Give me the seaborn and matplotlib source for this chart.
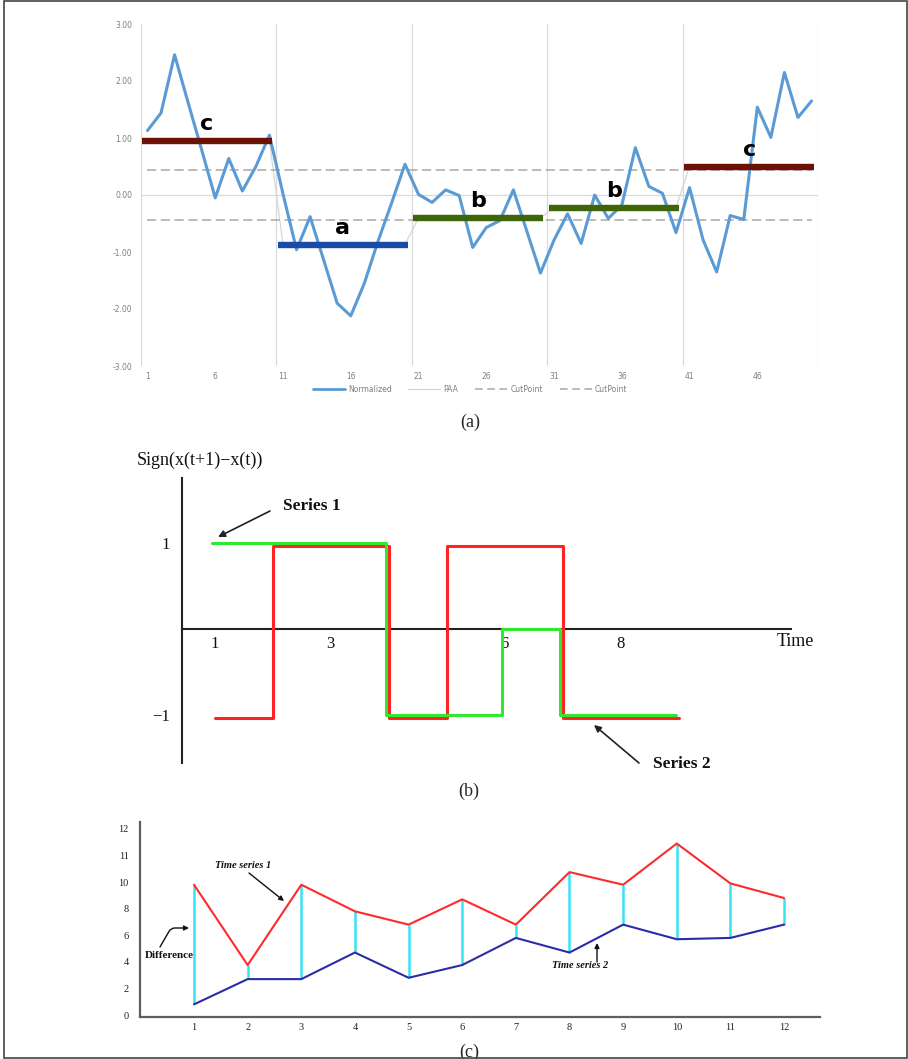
import numpy as np
import matplotlib
matplotlib.use("Agg")
import matplotlib.pyplot as plt
import matplotlib.transforms as mtransforms
from matplotlib.lines import Line2D
from matplotlib.patches import Rectangle
import seaborn as sns

W, H, DPI = 908, 1059, 100

# ---------------- (a) SAX representation ----------------
norm_index = list(range(1, 51))
norm_values = [1.13, 1.44, 2.46, 1.62, 0.79, -0.05, 0.64, 0.07, 0.50, 1.05,
               0.02, -0.96, -0.38, -1.14, -1.90, -2.12, -1.55, -0.82, -0.15, 0.54,
               0.01, -0.13, 0.09, -0.01, -0.92, -0.57, -0.45, 0.09, -0.64, -1.37,
               -0.79, -0.33, -0.85, 0.00, -0.41, -0.18, 0.83, 0.15, 0.03, -0.66,
               0.13, -0.79, -1.35, -0.36, -0.43, 1.54, 1.01, 2.15, 1.36, 1.65]
paa_values = [0.95, -0.87, -0.40, -0.22, 0.50]
paa_letters = ["c", "a", "b", "b", "c"]
segment_len = 10
cut_points = [0.43, -0.43]
a_xticks = [1, 6, 11, 16, 21, 26, 31, 36, 41, 46]
a_yticks = [-3, -2, -1, 0, 1, 2, 3]
a_legend = ["Normalized", "PAA", "CutPoint", "CutPoint"]
letter_colors = {"a": "#1A4CA6", "b": "#3E6608", "c": "#6C1106"}

# ---------------- (b) sign of first differences ----------------
b_time = [1, 2, 3, 4, 5, 6, 7, 8, 9]
sign_series1 = [1, 1, 1, -1, -1, 0, -1, -1, -1]
sign_series2 = [-1, 1, 1, -1, 1, 1, -1, -1, -1]
b_xticks = [1, 3, 6, 8]
b_yticks = [1, -1]
b_yticklabels = ["1", "\u22121"]

# ---------------- (c) point-wise difference ----------------
c_time = list(range(1, 13))
time_series1 = [9.8, 3.76, 9.8, 7.8, 6.8, 8.7, 6.8, 10.75, 9.8, 12.9, 9.9, 8.8]
time_series2 = [0.8, 2.7, 2.7, 4.7, 2.8, 3.76, 5.8, 4.7, 6.8, 5.7, 5.8, 6.8]
c_yticks = [0, 2, 4, 6, 8, 10, 12, 14]
c_yticklabels = ["0", "2", "4", "6", "8", "10", "11", "12"]

sns.set_style("white")
plt.rcParams["font.family"] = ["Liberation Serif", "DejaVu Serif"]
plt.rcParams["axes.unicode_minus"] = True

fig = plt.figure(figsize=(W / DPI, H / DPI), dpi=DPI)
fig.patch.set_facecolor("white")


def rect(l, t, r, b):
    return [l / W, 1 - b / H, (r - l) / W, (b - t) / H]


def fpx(x, y):
    return (x, H - y)


# ======================= panel (a) =======================
axa = fig.add_axes(rect(140.7, 24, 818.3, 366))
axa.set_xlim(0.5, 50.5)
axa.set_ylim(-3, 3)
for s in axa.spines.values():
    s.set_visible(False)
axa.set_xticks(np.arange(0.5, 51, segment_len), minor=True)
axa.grid(which="minor", axis="x", color="#DADADA", lw=0.9)
axa.grid(which="major", visible=False)
axa.axhline(0, color="#DADADA", lw=0.9, zorder=0)

paa_full = np.repeat(paa_values, segment_len)
sns.lineplot(x=norm_index, y=paa_full, ax=axa, color="#D6D6D6", lw=0.9, zorder=2)
for cp in cut_points:
    axa.plot([norm_index[0], norm_index[-1]], [cp, cp], color="#A8A8A8",
             lw=1.1, ls=(0, (6, 3)), zorder=2)
sns.lineplot(x=norm_index, y=norm_values, ax=axa, color="#5B9BD5", lw=2.2, zorder=3)

for k, (v, letter) in enumerate(zip(paa_values, paa_letters)):
    x0 = k * segment_len + 0.6
    x1 = k * segment_len + segment_len + 0.2
    axa.hlines(v, x0, x1, color=letter_colors[letter], lw=4.6, zorder=4)
    axa.annotate(letter, ((x0 + x1) / 2, v), xytext=(0, 7.5),
                 textcoords="offset points", ha="center", va="baseline",
                 fontsize=16, fontweight="bold", family="DejaVu Sans",
                 color="#000000", zorder=5)

axa.set_xticks(a_xticks, labels=[str(v) for v in a_xticks])
axa.set_yticks(a_yticks, labels=[f"{v:.2f}" for v in a_yticks])
axa.tick_params(axis="both", length=0, labelsize=5.5, labelcolor="#7F7F7F")
axa.tick_params(axis="x", pad=4)
axa.tick_params(axis="y", pad=6)
for lab in axa.get_xticklabels() + axa.get_yticklabels():
    lab.set_family("DejaVu Sans")
axa.set_xlabel("")
axa.set_ylabel("")

handles = [Line2D([], [], color="#5B9BD5", lw=2.0),
           Line2D([], [], color="#D6D6D6", lw=0.9),
           Line2D([], [], color="#A8A8A8", lw=1.1, ls=(0, (5, 3))),
           Line2D([], [], color="#A8A8A8", lw=1.1, ls=(0, (5, 3)))]
leg = axa.legend(handles, a_legend, loc="center", ncol=4, frameon=False,
                 bbox_to_anchor=(470 / W, 1 - 389 / H), bbox_transform=fig.transFigure,
                 handlelength=4.2, columnspacing=2.2, handletextpad=0.4,
                 labelcolor="#7F7F7F", prop={"family": "DejaVu Sans", "size": 5.5})

fig.text(470 / W, 1 - 422 / H, "(a)", ha="center", va="center", fontsize=13)

# ======================= panel (b) =======================
axb = fig.add_axes(rect(130, 455, 830, 800))
axb.patch.set_alpha(0)
shift_green = mtransforms.ScaledTranslation(-3 / DPI, 0, fig.dpi_scale_trans)
shift_red = mtransforms.ScaledTranslation(0, -3 / DPI, fig.dpi_scale_trans)
sns.lineplot(x=b_time, y=sign_series1, ax=axb, color="#2EEA2E", lw=2.2,
             drawstyle="steps-post", transform=axb.transData + shift_green, zorder=4)
sns.lineplot(x=b_time, y=sign_series2, ax=axb, color="#FF2424", lw=2.2,
             drawstyle="steps-post", transform=axb.transData + shift_red, zorder=3)
axb.set_xlim(-0.457, 11.612)
axb.set_ylim(-1.981, 2.016)
axb.spines["top"].set_visible(False)
axb.spines["right"].set_visible(False)
axb.spines["left"].set_position(("data", 0.445))
axb.spines["left"].set_bounds(-1.553, 1.75)
axb.spines["bottom"].set_position(("data", 0))
axb.spines["bottom"].set_bounds(0.445, 10.94)
for s in ("left", "bottom"):
    axb.spines[s].set_color("#222222")
    axb.spines[s].set_linewidth(1.5)
    axb.spines[s].set_zorder(2)
axb.set_xticks(b_xticks, labels=[str(v) for v in b_xticks])
axb.set_yticks(b_yticks, labels=b_yticklabels)
axb.tick_params(axis="both", length=0, labelsize=12, labelcolor="#111111")
axb.tick_params(axis="x", pad=4.8)
axb.tick_params(axis="y", pad=9)
axb.set_xlabel("")
axb.set_ylabel("")

fig.text(137 / W, 1 - 460 / H, "Sign(x(t+1)\u2212x(t))", ha="left", va="center",
         fontsize=13, color="#111111")
fig.text(777 / W, 1 - 641 / H, "Time", ha="left", va="center", fontsize=13,
         color="#111111")

arrow_kw = dict(arrowstyle="-|>", color="#222222", lw=1.2, mutation_scale=10,
                shrinkA=0, shrinkB=0)
axb.annotate("", xy=fpx(218, 537), xytext=fpx(270, 511), xycoords="figure pixels",
             textcoords="figure pixels", arrowprops=arrow_kw)
fig.text(283 / W, 1 - 506 / H, "Series 1", ha="left", va="center", fontsize=12.5,
         fontweight="bold", color="#111111")
axb.annotate("", xy=fpx(594, 725), xytext=fpx(639, 763), xycoords="figure pixels",
             textcoords="figure pixels", arrowprops=arrow_kw)
fig.text(653 / W, 1 - 764 / H, "Series 2", ha="left", va="center", fontsize=12.5,
         fontweight="bold", color="#111111")

fig.text(469 / W, 1 - 791 / H, "(b)", ha="center", va="center", fontsize=13)

# ======================= panel (c) =======================
axc = fig.add_axes(rect(140, 822, 820, 1017))
axc.patch.set_alpha(0)
fig.text(145 / W, 1 - 956 / H, "Difference", ha="left", va="center",
         fontsize=8, fontweight="bold", color="#111111", zorder=0)
axc.vlines(c_time, time_series2, time_series1, color="#36E3F5", lw=1.8, zorder=2)
sns.lineplot(x=c_time, y=time_series1, ax=axc, color="#FF2A2A", lw=1.5, zorder=3)
sns.lineplot(x=c_time, y=time_series2, ax=axc, color="#2C2CA8", lw=1.5, zorder=3)
axc.set_xlim(-0.007, 12.67)
axc.set_ylim(-0.15, 14.52)
axc.spines["top"].set_visible(False)
axc.spines["right"].set_visible(False)
for s in ("left", "bottom"):
    axc.spines[s].set_color("#5E5E5E")
    axc.spines[s].set_linewidth(1.6)
axc.set_xticks(c_time, labels=[str(v) for v in c_time])
axc.set_yticks(c_yticks, labels=c_yticklabels)
axc.tick_params(axis="both", length=0, labelsize=7.5, labelcolor="#222222")
axc.tick_params(axis="x", pad=4.3)
axc.tick_params(axis="y", pad=8)
axc.set_xlabel("")
axc.set_ylabel("")

small_arrow = dict(arrowstyle="-|>", color="#111111", lw=1.0, mutation_scale=7,
                   shrinkA=0, shrinkB=0)
fig.text(215 / W, 1 - 865 / H, "Time series 1", ha="left", va="center",
         fontsize=7.5, fontstyle="italic", fontweight="bold", color="#111111")
axc.annotate("", xy=fpx(284, 901), xytext=fpx(249, 873), xycoords="figure pixels",
             textcoords="figure pixels", arrowprops=small_arrow)
fig.text(552 / W, 1 - 966 / H, "Time series 2", ha="left", va="center",
         fontsize=7.5, fontstyle="italic", fontweight="bold", color="#111111")
axc.annotate("", xy=fpx(597, 943), xytext=fpx(597, 962), xycoords="figure pixels",
             textcoords="figure pixels", arrowprops=small_arrow)
curved = dict(small_arrow, connectionstyle="angle,angleA=60,angleB=0,rad=4")
axc.annotate("", xy=fpx(189, 928), xytext=fpx(160, 947), xycoords="figure pixels",
             textcoords="figure pixels", arrowprops=curved)

fig.text(469 / W, 1 - 1052 / H, "(c)", ha="center", va="center", fontsize=13)

# outer frame
fig.patches.append(Rectangle((4 / W, 1 - 1058 / H), 903 / W, 1057 / H,
                             transform=fig.transFigure, fill=False,
                             edgecolor="#444444", lw=1.2, zorder=10))

fig.savefig("out.png", dpi=DPI, facecolor="white")
